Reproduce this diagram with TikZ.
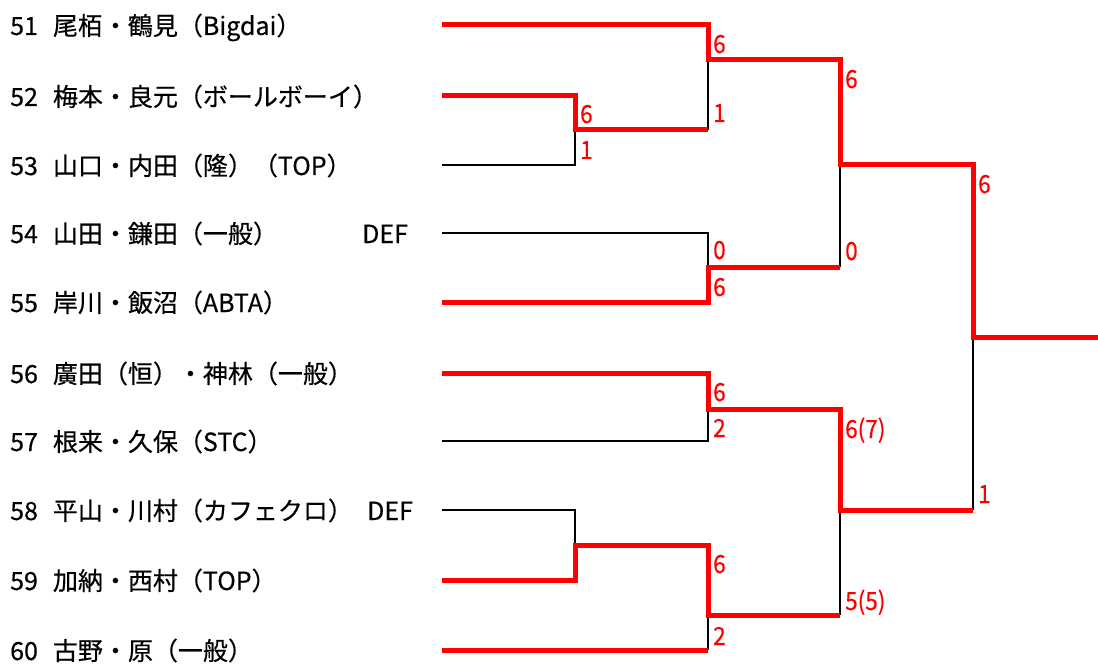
\documentclass[tikz,border=0pt]{standalone}
\usepackage{fontspec}
\setmainfont{Noto Sans CJK JP}
\newfontfamily\namefont{Noto Sans CJK JP}[FakeBold=0.4]
\newfontfamily\scorefont{Noto Sans CJK JP}[FakeStretch=0.9,FakeBold=0.4]
\newcommand{\gap}{\hspace{15pt}}
\begin{document}
\begin{tikzpicture}[x=1pt,y=-1pt,
  namelabel/.style={anchor=base west, inner sep=0pt, font=\namefont\fontsize{25}{25}\selectfont},
  score/.style={anchor=base west, inner sep=0pt, text=red, font=\scorefont\fontsize{25}{25}\selectfont},
  winline/.style={draw=red, line width=5pt, line join=miter},
  loseline/.style={draw=black, line width=2.6pt, line join=miter}]
\useasboundingbox (0,0) rectangle (1098,666);
% names
\node[namelabel] (n51) at (10,35) {51\gap 尾栢・鶴見（Bigdai）};
\node[namelabel] (n52) at (10,106) {52\gap 梅本・良元（ボールボーイ）};
\node[namelabel] (n53) at (10,175) {53\gap 山口・内田（隆）（TOP）};
\node[namelabel] (n54) at (10,243) {54\gap 山田・鎌田（一般）};
\node[namelabel] (n55) at (10,312) {55\gap 岸川・飯沼（ABTA）};
\node[namelabel] (n56) at (10,383) {56\gap 廣田（恒）・神林（一般）};
\node[namelabel] (n57) at (10,451) {57\gap 根来・久保（STC）};
\node[namelabel] (n58) at (10,520) {58\gap 平山・川村（カフェクロ）};
\node[namelabel] (n59) at (10,590) {59\gap 加納・西村（TOP）};
\node[namelabel] (n60) at (10,660) {60\gap 古野・原（一般）};
\node[namelabel] (def54) at (362,243) {DEF};
\node[namelabel] (def58) at (367,520) {DEF};
% line starts
\coordinate (s51) at (442,25);
\coordinate (s52) at (442,96);
\coordinate (s53) at (442,165);
\coordinate (s54) at (442,233);
\coordinate (s55) at (442,302);
\coordinate (s56) at (442,373);
\coordinate (s57) at (442,441);
\coordinate (s58) at (442,510);
\coordinate (s59) at (442,580);
\coordinate (s60) at (442,650);
% junctions
\coordinate (j1) at (575,130);
\coordinate (j2) at (708,60);
\coordinate (j3) at (708,267);
\coordinate (j4) at (840,165);
\coordinate (j5) at (708,409);
\coordinate (j6) at (575,545);
\coordinate (j7) at (708,615);
\coordinate (j8) at (840,510);
\coordinate (jf) at (973,337);
\coordinate (win) at (1098,337);
% losing lines
\draw[loseline] (s53) -| (j1);
\draw[loseline] (j2) -- (j1 -| j2);
\draw[loseline] (s54) -| (j3);
\draw[loseline] (j4) -- (j3 -| j4);
\draw[loseline] (s57) -| (j5);
\draw[loseline] (s58) -| (j6);
\draw[loseline] (j7) -- (s60 -| j7);
\draw[loseline] (j8) -- (j7 -| j8);
\draw[loseline] (jf) -- (j8 -| jf);
% winning lines
\draw[winline] (s51) -| (j2) -| (j4) -| (jf) -- (win);
\draw[winline] (s52) -| (j1) -- (j1 -| j2);
\draw[winline] (s55) -| (j3) -- (j3 -| j4);
\draw[winline] (s56) -| (j5) -| (j8) -- (j8 -| jf);
\draw[winline] (s59) -| (j6) -| (j7) -- (j7 -| j8);
\draw[winline] (s60) -- (s60 -| j7);
% scores
\node[score] (sc1a) at (580,123) {6};
\node[score] (sc1b) at (580,159) {1};
\node[score] (sc2a) at (713,53) {6};
\node[score] (sc2b) at (713,122) {1};
\node[score] (sc3a) at (713,259) {0};
\node[score] (sc3b) at (713,296) {6};
\node[score] (sc4a) at (845,88) {6};
\node[score] (sc4b) at (845,260) {0};
\node[score] (sc5a) at (713,401) {6};
\node[score] (sc5b) at (713,437) {2};
\node[score] (sc7a) at (713,573) {6};
\node[score] (sc7b) at (713,645) {2};
\node[score] (sc8a) at (845,438) {6(7)};
\node[score] (sc8b) at (845,610) {5(5)};
\node[score] (scfa) at (978,193) {6};
\node[score] (scfb) at (978,503) {1};
\end{tikzpicture}
\end{document}
